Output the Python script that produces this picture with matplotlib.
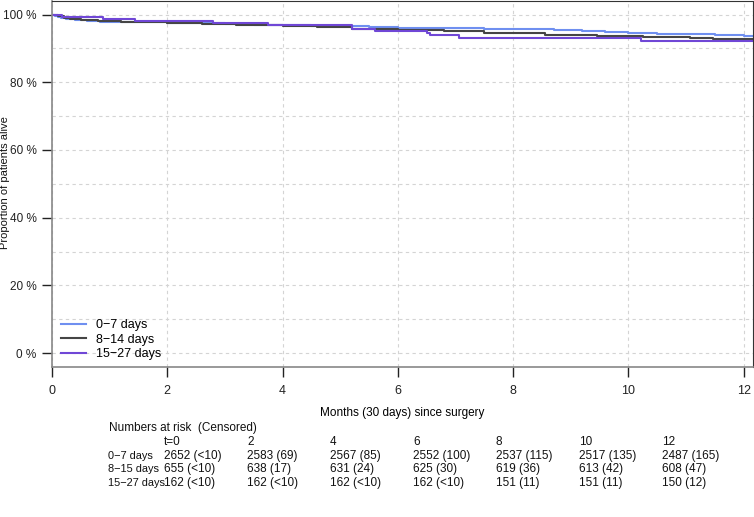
import numpy as np
import matplotlib
matplotlib.use("Agg")
import matplotlib.pyplot as plt

plt.rcParams['font.family'] = ['Liberation Sans', 'DejaVu Sans']

# survival curves (months, % alive)
blue_t = [0, 0.05, 0.1, 0.15, 0.25, 0.4, 0.6, 0.84, 1.2, 1.6, 2.0, 2.5, 3.0, 3.5, 4.0, 4.5,
          5.0, 5.5, 6.0, 6.5, 7.0, 7.5, 8.2, 8.7, 9.2, 9.6, 10.0, 10.5, 11.0, 11.5, 12.0]
blue_s = [100, 99.6, 99.3, 99.0, 98.7, 98.4, 98.1, 97.9, 97.8, 97.7, 97.6, 97.4, 97.2, 97.0, 96.8, 96.7,
          96.5, 96.3, 96.1, 96.0, 95.9, 95.8, 95.6, 95.4, 95.2, 94.9, 94.6, 94.4, 94.2, 94.0, 93.8]
dark_t = [0, 0.1, 0.2, 0.31, 0.5, 0.8, 1.2, 2.0, 2.6, 3.2, 4.0, 4.6, 5.2, 6.0, 6.8, 7.5,
          8.55, 9.45, 10.25, 11.06, 11.46]
dark_s = [100, 99.5, 99.1, 98.7, 98.4, 98.1, 97.9, 97.6, 97.3, 97.0, 96.6, 96.2, 95.8, 95.4, 95.0, 94.6,
          94.1, 93.6, 93.4, 93.0, 92.8]
purple_t = [0, 0.17, 0.89, 1.44, 2.79, 3.75, 5.2, 5.6, 6.5, 6.56, 7.06, 10.22]
purple_s = [100, 99.4, 98.8, 98.1, 97.5, 96.9, 95.6, 95.0, 94.6, 94.0, 93.1, 92.3]
x_end = 12.16

groups = ['0\u22127 days', '8\u221214 days', '15\u221227 days']
colours = ['#6f8ff0', '#454545', '#7047d6']

# numbers at risk table
risk_times = ['t=0', '2', '4', '6', '8', '10', '12']
risk_rows = ['0\u22127 days', '8\u221215 days', '15\u221227 days']
risk_0_7 = ['2652 (<10)', '2583 (69)', '2567 (85)', '2552 (100)', '2537 (115)', '2517 (135)', '2487 (165)']
risk_8_15 = ['655 (<10)', '638 (17)', '631 (24)', '625 (30)', '619 (36)', '613 (42)', '608 (47)']
risk_15_27 = ['162 (<10)', '162 (<10)', '162 (<10)', '162 (<10)', '151 (11)', '151 (11)', '150 (12)']

W, H = 754, 517
fig = plt.figure(figsize=(W / 100, H / 100), dpi=100)
ax = fig.add_axes([52 / W, 1 - 367 / H, 701 / W, 366 / H])

for t, s, lab, c in zip([blue_t, dark_t, purple_t], [blue_s, dark_s, purple_s], groups, colours):
    tt = np.append(t, x_end)
    ss = np.append(s, s[-1]) / 100
    ax.step(tt, ss, where='post', color=c, lw=1.5, label=lab)

ax.set_xlim(0, x_end)
ax.set_ylim(-0.041, 1.04)
ax.set_xticks(range(0, 13, 2))
ax.set_yticks(np.arange(0, 1.01, 0.2))
ax.set_yticklabels([f'{int(round(v * 100))} %' for v in np.arange(0, 1.01, 0.2)])
ax.set_yticks(np.arange(0.1, 1.0, 0.2), minor=True)
ax.tick_params(axis='y', which='minor', length=0)
ax.grid(True, which='both', axis='y', color='#d4d4d4', ls=(0, (3, 3)), lw=0.8)
ax.grid(True, axis='x', color='#d4d4d4', ls=(0, (3, 3)), lw=0.8)
ax.set_axisbelow(True)
ax.tick_params(labelsize=9, colors='#222222', length=7, width=1, pad=4)
ax.tick_params(axis='y', labelsize=8.5)
ax.tick_params(axis='x', pad=6)
for side in ['left', 'bottom']:
    ax.spines[side].set_color('#888888')
    ax.spines[side].set_linewidth(1.2)
for side in ['top', 'right']:
    ax.spines[side].set_color('#333333')
ax.set_xlabel('Months (30 days) since surgery', fontsize=8.5, labelpad=7)
fig.text(5 / W, 1 - 183 / H, 'Proportion of patients alive', fontsize=8,
         rotation=90, ha='center', va='center', color='#111111')

ax.legend(loc='lower left', bbox_to_anchor=(0.0, -0.005), frameon=False, fontsize=9,
          handlelength=2.0, handletextpad=0.8, labelspacing=0.2, borderaxespad=0.3)

# risk table
def ftext(x, y, s, size=8.5):
    fig.text(x / W, 1 - y / H, s, fontsize=size, va='center', ha='left', color='#111111')

ftext(109, 428, 'Numbers at risk  (Censored)')
col_x = [164, 247, 330, 413, 496, 579, 662]
row_y = [456, 469, 483]
for x, s in zip(col_x, risk_times):
    ftext(x, 442, s)
for y, name, vals in zip(row_y, risk_rows, [risk_0_7, risk_8_15, risk_15_27]):
    ftext(108, y, name, size=7.9)
    for x, s in zip(col_x, vals):
        ftext(x, y, s)

fig.savefig('out.png', dpi=100)
